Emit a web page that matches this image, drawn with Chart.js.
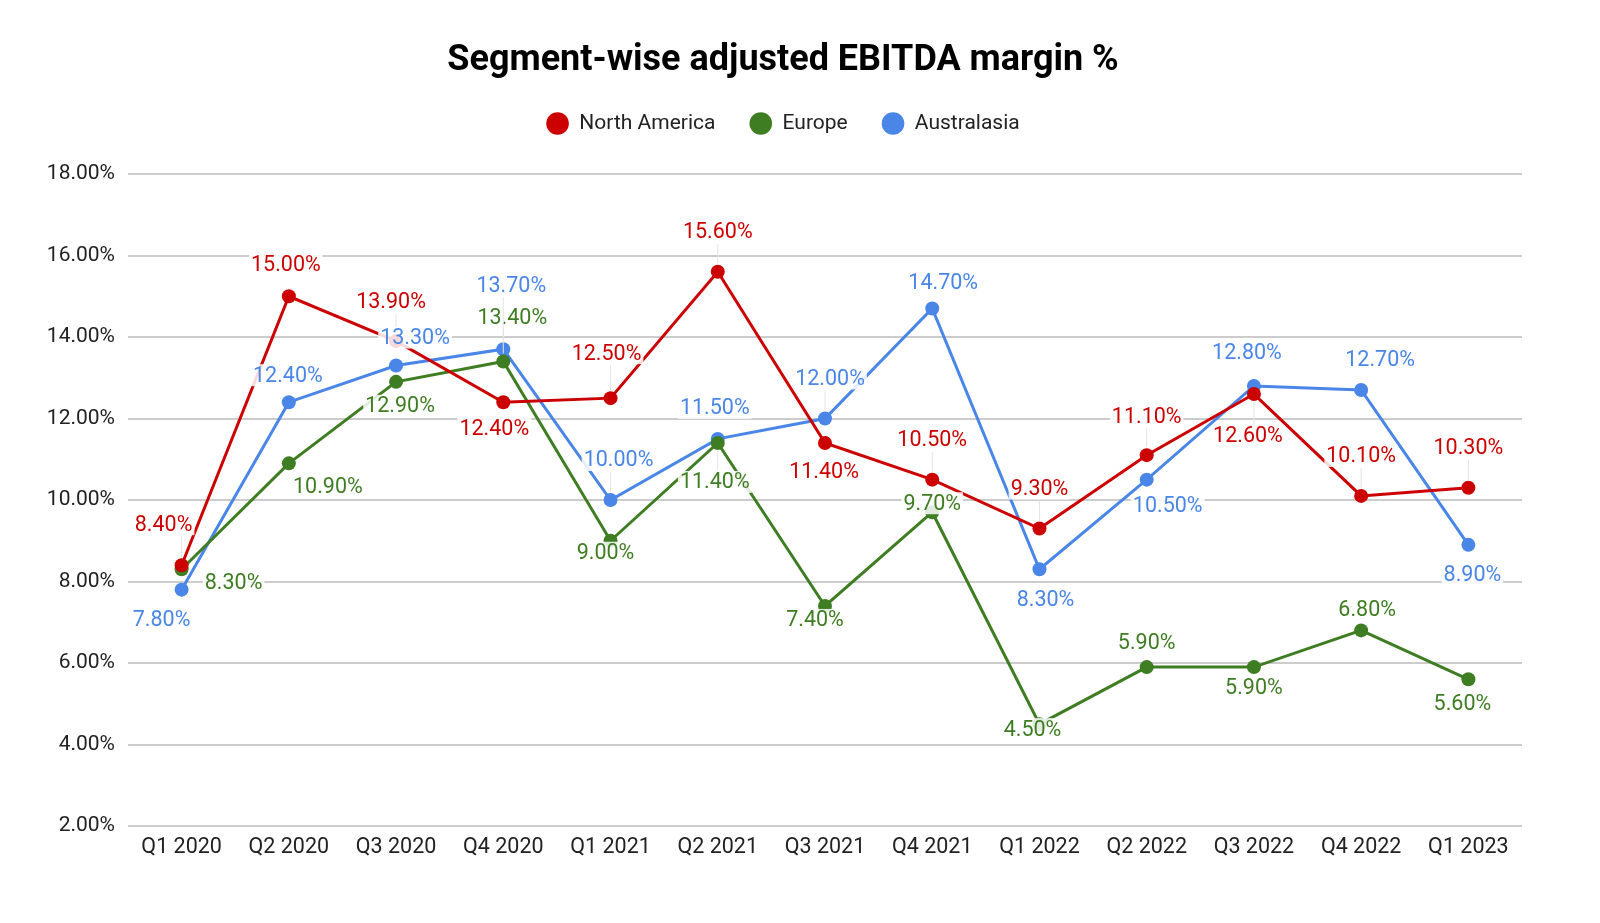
<!DOCTYPE html>
<html>
<head>
<meta charset="utf-8">
<script src="https://cdn.jsdelivr.net/npm/chart.js@4"></script>
<style>
  body { margin: 0; background: #fff; overflow: hidden; }
  #wrap { width: 1600px; height: 923px; }
</style>
</head>
<body>
<div id="wrap"><canvas id="chart"></canvas></div>
<script>
const quarters = ['Q1 2020', 'Q2 2020', 'Q3 2020', 'Q4 2020', 'Q1 2021', 'Q2 2021', 'Q3 2021',
    'Q4 2021', 'Q1 2022', 'Q2 2022', 'Q3 2022', 'Q4 2022', 'Q1 2023'];
const northAmerica = [8.4, 15.0, 13.9, 12.4, 12.5, 15.6, 11.4, 10.5, 9.3, 11.1, 12.6, 10.1, 10.3];
const europe = [8.3, 10.9, 12.9, 13.4, 9.0, 11.4, 7.4, 9.7, 4.5, 5.9, 5.9, 6.8, 5.6];
const australasia = [7.8, 12.4, 13.3, 13.7, 10.0, 11.5, 12.0, 14.7, 8.3, 10.5, 12.8, 12.7, 8.9];
const yTicks = [2, 4, 6, 8, 10, 12, 14, 16, 18];

// where each value label sits relative to its point (px), one list per series
const naLabelOffsets = [[-18,-41],[-3,-32],[-5,-39],[-9,26],[-4,-45],[0,-40],[-1,29],[0,-40],[0,-40],[0,-39],[-6,42],[0,-40],[0,-40]];
const euLabelOffsets = [[52,13],[39,23],[4,24],[9,-44],[-5,12],[-3,39],[-10,14],[0,-9],[-7,5],[0,-24],[0,21],[6,-21],[-6,24]];
const auLabelOffsets = [[-20,30],[-1,-27],[19,-28],[8,-64],[8,-40],[-3,-31],[5,-40],[11,-26],[6,30],[21,26],[-7,-33],[19,-30],[4,30]];

const RED = '#cc0000';
const GREEN = '#3f7d23';
const BLUE = '#4a86e8';

const valueLabels = {
    id: 'valueLabels',
    afterDatasetsDraw(chart) {
        const ctx = chart.ctx;
        ctx.save();
        ctx.font = '21.5px Roboto';
        ctx.textAlign = 'center';
        ctx.textBaseline = 'middle';
        chart.data.datasets.forEach((ds, i) => {
            const meta = chart.getDatasetMeta(i);
            meta.data.forEach((pt, j) => {
                const off = ds.labelOffsets[j];
                const txt = ds.data[j].toFixed(2) + '%';
                const x = pt.x + off[0];
                const y = pt.y + off[1];
                const w = ctx.measureText(txt).width;
                if (Math.abs(off[1]) > 35) {
                    const s = Math.sign(off[1]);
                    ctx.strokeStyle = '#e4e4e4';
                    ctx.lineWidth = 1;
                    ctx.beginPath();
                    ctx.moveTo(pt.x, pt.y + s * 8);
                    ctx.lineTo(pt.x, y - s * 12);
                    ctx.stroke();
                }
                ctx.fillStyle = 'rgba(255,255,255,0.85)';
                ctx.fillRect(x - w / 2 - 2, y - 11, w + 4, 22);
                ctx.fillStyle = ds.borderColor;
                ctx.fillText(txt, x, y + 1);
            });
        });
        ctx.restore();
    }
};

// extra room between the legend and the plot
const legendGap = {
    id: 'legendGap',
    beforeInit(chart) {
        const fit = chart.legend.fit;
        chart.legend.fit = function () {
            fit.bind(chart.legend)();
            this.height += 30;
        };
    }
};

const ctx = document.getElementById('chart').getContext('2d');
// eslint-disable-next-line no-undef
new Chart(ctx, {
    type: 'line',
    data: {
        labels: quarters,
        datasets: [
            { label: 'North America', data: northAmerica, borderColor: RED, backgroundColor: RED,
              labelOffsets: naLabelOffsets },
            { label: 'Europe', data: europe, borderColor: GREEN, backgroundColor: GREEN,
              labelOffsets: euLabelOffsets },
            { label: 'Australasia', data: australasia, borderColor: BLUE, backgroundColor: BLUE,
              labelOffsets: auLabelOffsets }
        ]
    },
    options: {
        responsive: true,
        maintainAspectRatio: false,
        animation: false,
        elements: {
            line: { borderWidth: 3, tension: 0 },
            point: { radius: 7, hoverRadius: 7, borderWidth: 0 }
        },
        layout: { padding: { left: 0, right: 34, top: 0, bottom: 0 } },
        plugins: {
            title: {
                display: true,
                text: 'Segment-wise adjusted EBITDA margin %',
                color: '#000',
                font: { family: 'Roboto', size: 36, weight: 'bold', lineHeight: 1 },
                padding: { top: 43, bottom: 0 }
            },
            legend: {
                labels: {
                    usePointStyle: true,
                    pointStyle: 'circle',
                    boxHeight: 16,
                    pointStyleWidth: 22.6,
                    padding: 34,
                    color: '#222',
                    font: { family: 'Roboto', size: 21 }
                }
            },
            tooltip: { enabled: false }
        },
        scales: {
            x: {
                offset: true,
                grid: { display: false, drawTicks: false },
                border: { display: false },
                ticks: { color: '#222', font: { family: 'Roboto', size: 21.5 }, padding: 9, maxRotation: 0 },
                afterFit(scale) { scale.height = 97; }
            },
            y: {
                min: 2,
                max: 18,
                afterBuildTicks(scale) { scale.ticks = yTicks.map(v => ({ value: v })); },
                grid: { color: '#cccccc', lineWidth: 2, drawTicks: false },
                border: { display: false },
                ticks: {
                    color: '#222',
                    font: { family: 'Roboto', size: 21 },
                    padding: 13,
                    callback: v => v.toFixed(2) + '%'
                },
                afterFit(scale) { scale.width = 128; }
            },
            yRight: {
                position: 'right',
                grid: { display: false, drawTicks: false },
                border: { display: false },
                ticks: { display: false },
                afterFit(scale) { scale.width = 44; }
            }
        }
    },
    plugins: [valueLabels, legendGap]
});
</script>
</body>
</html>
